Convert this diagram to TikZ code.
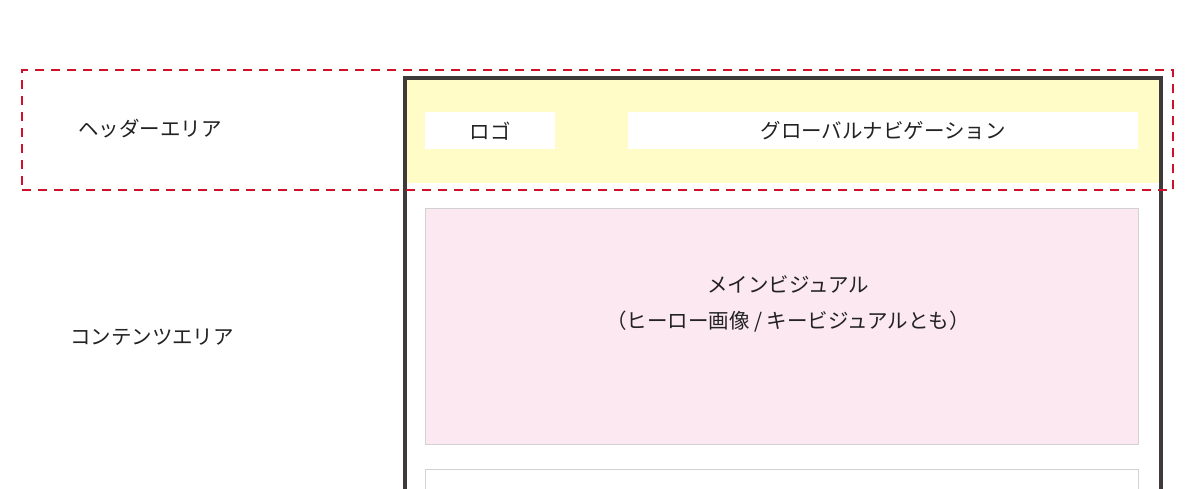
\documentclass[tikz,border=0pt]{standalone}
\usepackage{fontspec}
\setmainfont{Noto Sans CJK JP}
\usetikzlibrary{positioning}

\definecolor{framegray}{HTML}{3D3A39}
\definecolor{hdryellow}{HTML}{FFFCC8}
\definecolor{mvpink}{HTML}{FCE8F1}
\definecolor{boxline}{HTML}{D2D2D2}
\definecolor{areared}{HTML}{D0112B}
\definecolor{txtgray}{HTML}{222222}

\begin{document}
\begin{tikzpicture}[x=1pt,y=-1pt,
    lb/.style={text=txtgray,font=\fontsize{20.5}{26}\selectfont,inner sep=0pt},
    bx/.style={rectangle,fill=white,inner sep=0pt,anchor=north west,lb},
    area/.style={draw=areared,line width=2.2pt,dash pattern=on 9pt off 7pt}]
            \useasboundingbox[fill=white] (0,0) rectangle (1200,489);

            % page frame with header band
            \fill[hdryellow] (405,78) rectangle (1161,183);
            \draw[framegray,line width=4.5pt] (405,495) -- (405,78) -- (1161,78) -- (1161,495);

            \draw (425,112) node[bx,minimum width=130pt,minimum height=37pt](logo){ロゴ};
            \draw (628,112) node[bx,minimum width=510pt,minimum height=37pt](gnav){グローバルナビゲーション};

            \draw (425,208) node[bx,draw=boxline,fill=mvpink,line width=0.8pt,
                minimum width=713pt,minimum height=236pt](mv){};
            \draw (788,304) node[lb,align=center](mvtext){メインビジュアル\\[10pt]（ヒーロー画像 / キービジュアルとも）};
            \draw (425,469) node[bx,draw=boxline,line width=0.8pt,
                minimum width=713pt,minimum height=40pt](next){};

            % area labels
            \draw (21,69) node[area,rectangle,anchor=north west,minimum width=1151pt,minimum height=120pt,inner sep=0pt](hdr){};
            \draw (150,129) node[lb](hdrlabel){ヘッダーエリア};
            \draw (152,337) node[lb](cntlabel){コンテンツエリア};
        \end{tikzpicture}
\end{document}
